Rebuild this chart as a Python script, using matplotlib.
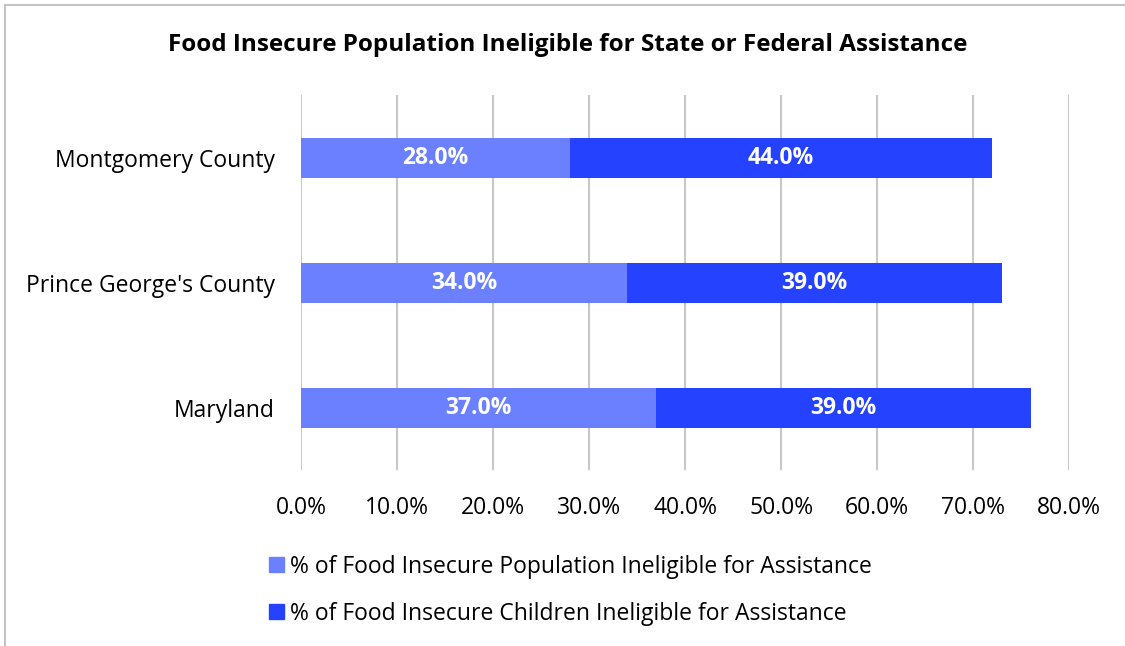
import matplotlib.pyplot as plt
from matplotlib.patches import Rectangle, Patch

regions = ['Maryland', "Prince George's County", 'Montgomery County']
population = [37.0, 34.0, 28.0]
children = [39.0, 39.0, 44.0]
ticks = [0, 10, 20, 30, 40, 50, 60, 70, 80]

light = '#6B80FF'
dark = '#2442FF'

plt.rcParams['font.family'] = ['Open Sans', 'DejaVu Sans']

fig = plt.figure(figsize=(11.25, 6.46), dpi=100)
ax = fig.add_axes([0.2676, 0.2724, 0.6827, 0.5805])

# chart frame
fig.patches.append(Rectangle((5 / 1125, -0.01), 1.2, 1 - 5 / 646 + 0.01,
                             transform=fig.transFigure, fill=False,
                             edgecolor='#c4c4c4', linewidth=1.5))

y = range(len(regions))
ax.barh(y, population, height=0.32, color=light, zorder=3)
ax.barh(y, children, left=population, height=0.32, color=dark, zorder=3)

for i in y:
    ax.text(population[i] / 2, i, f'{population[i]:.1f}%', ha='center', va='center',
            color='white', fontsize=16.5, fontweight='bold', zorder=4)
    ax.text(population[i] + children[i] / 2, i, f'{children[i]:.1f}%', ha='center',
            va='center', color='white', fontsize=16.5, fontweight='bold', zorder=4)

ax.set_xlim(0, 80)
ax.set_ylim(-0.5, 2.5)
ax.set_xticks(ticks)
ax.set_xticklabels([f'{t:.1f}%' for t in ticks], fontsize=16.5)
ax.set_yticks(list(y))
ax.set_yticklabels(regions, fontsize=16.5)
ax.tick_params(length=0, pad=19, axis='x')
ax.tick_params(length=0, pad=19, axis='y')
ax.grid(axis='x', color='#c8c8c8', linewidth=1.5, zorder=0)
for s in ax.spines.values():
    s.set_visible(False)

fig.text(0.505, 1 - 45 / 646, 'Food Insecure Population Ineligible for State or Federal Assistance',
         ha='center', va='center', fontsize=17.5, fontweight='bold')

handles = [Patch(color=light, label='% of Food Insecure Population Ineligible for Assistance'),
           Patch(color=dark, label='% of Food Insecure Children Ineligible for Assistance')]
fig.legend(handles=handles, loc='upper left', bbox_to_anchor=(248 / 1125, 1 - 534 / 646),
           frameon=False, fontsize=16.5, handlelength=0.65, handleheight=0.65,
           handletextpad=0.3, labelspacing=1.0)

fig.savefig('out.png', dpi=100)
